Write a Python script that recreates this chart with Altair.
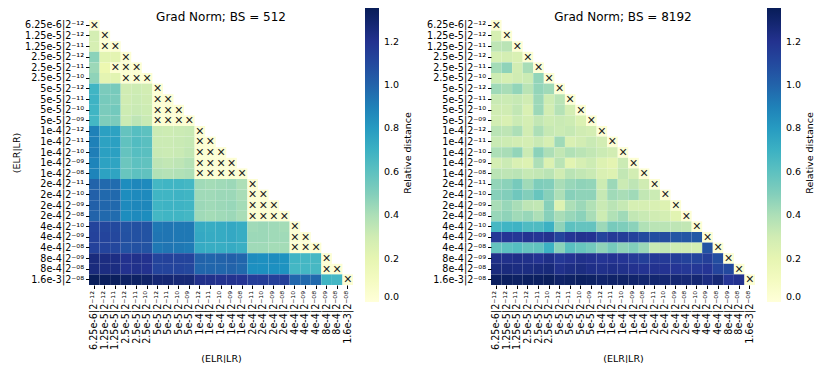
import altair as alt
import pandas as pd

# ---------------- data ----------------
elr = ["6.25e-6", "1.25e-5", "1.25e-5", "2.5e-5", "2.5e-5", "2.5e-5",
       "5e-5", "5e-5", "5e-5", "5e-5",
       "1e-4", "1e-4", "1e-4", "1e-4", "1e-4",
       "2e-4", "2e-4", "2e-4", "2e-4",
       "4e-4", "4e-4", "4e-4", "8e-4", "8e-4", "1.6e-3"]
lr_exp = ["-12", "-12", "-11", "-12", "-11", "-10",
          "-12", "-11", "-10", "-09",
          "-12", "-11", "-10", "-09", "-08",
          "-11", "-10", "-09", "-08",
          "-10", "-09", "-08", "-09", "-08", "-08"]
SUP = str.maketrans("-0123456789", "⁻⁰¹²³⁴⁵⁶⁷⁸⁹")
labels = [f"{e}|2{x.translate(SUP)}" for e, x in zip(elr, lr_exp)]

# BS = 512 (lower triangle, row i has i+1 values)
vals_512 = [
    [0.02],
    [0.28, 0.02],
    [0.27, 0.03, 0.02],
    [0.48, 0.22, 0.21, 0.02],
    [0.44, 0.17, 0.03, 0.03, 0.02],
    [0.47, 0.21, 0.22, 0.03, 0.03, 0.02],
    [0.68, 0.52, 0.53, 0.30, 0.31, 0.29, 0.02],
    [0.69, 0.53, 0.52, 0.30, 0.32, 0.30, 0.03, 0.02],
    [0.68, 0.52, 0.54, 0.31, 0.33, 0.31, 0.03, 0.03, 0.02],
    [0.67, 0.51, 0.52, 0.32, 0.36, 0.33, 0.03, 0.03, 0.03, 0.02],
    [0.90, 0.78, 0.77, 0.58, 0.62, 0.60, 0.32, 0.31, 0.32, 0.33, 0.02],
    [0.90, 0.77, 0.78, 0.59, 0.63, 0.61, 0.32, 0.32, 0.33, 0.34, 0.03, 0.02],
    [0.91, 0.78, 0.78, 0.58, 0.62, 0.61, 0.33, 0.32, 0.33, 0.35, 0.03, 0.03, 0.02],
    [0.89, 0.77, 0.76, 0.56, 0.60, 0.59, 0.36, 0.35, 0.36, 0.38, 0.03, 0.03, 0.03, 0.02],
    [0.89, 0.77, 0.76, 0.57, 0.60, 0.59, 0.39, 0.38, 0.39, 0.40, 0.03, 0.03, 0.03, 0.03, 0.02],
    [1.00, 0.98, 0.97, 0.86, 0.88, 0.87, 0.67, 0.68, 0.68, 0.67, 0.43, 0.42, 0.43, 0.44, 0.40, 0.02],
    [1.01, 0.98, 0.98, 0.86, 0.87, 0.87, 0.68, 0.68, 0.69, 0.68, 0.43, 0.43, 0.44, 0.44, 0.41, 0.03, 0.02],
    [1.01, 0.99, 0.98, 0.87, 0.88, 0.88, 0.68, 0.69, 0.69, 0.68, 0.44, 0.43, 0.44, 0.45, 0.42, 0.03, 0.03, 0.02],
    [1.00, 0.98, 0.97, 0.86, 0.87, 0.86, 0.67, 0.68, 0.68, 0.67, 0.43, 0.42, 0.43, 0.44, 0.41, 0.03, 0.03, 0.03, 0.02],
    [1.12, 1.11, 1.10, 1.06, 1.07, 1.06, 0.93, 0.94, 0.93, 0.93, 0.73, 0.72, 0.73, 0.74, 0.72, 0.43, 0.44, 0.43, 0.42, 0.02],
    [1.13, 1.12, 1.11, 1.07, 1.07, 1.06, 0.94, 0.94, 0.93, 0.93, 0.74, 0.73, 0.73, 0.74, 0.72, 0.44, 0.44, 0.43, 0.43, 0.03, 0.02],
    [1.13, 1.12, 1.11, 1.06, 1.07, 1.06, 0.93, 0.94, 0.93, 0.92, 0.73, 0.72, 0.72, 0.73, 0.71, 0.43, 0.43, 0.42, 0.42, 0.03, 0.03, 0.02],
    [1.25, 1.24, 1.23, 1.20, 1.21, 1.20, 1.12, 1.13, 1.12, 1.12, 1.00, 0.99, 1.00, 1.01, 0.99, 0.86, 0.85, 0.86, 0.84, 0.68, 0.67, 0.66, 0.02],
    [1.25, 1.24, 1.24, 1.20, 1.21, 1.20, 1.12, 1.12, 1.12, 1.11, 0.99, 0.99, 0.99, 1.00, 0.98, 0.85, 0.85, 0.85, 0.84, 0.67, 0.67, 0.66, 0.03, 0.02],
    [1.35, 1.34, 1.34, 1.32, 1.32, 1.31, 1.28, 1.28, 1.27, 1.27, 1.21, 1.21, 1.20, 1.20, 1.19, 1.15, 1.15, 1.14, 1.14, 0.99, 0.98, 0.98, 0.68, 0.67, 0.02],
]
mask_512 = [
    "x", ".x", ".xx", "...x", "..xxx", "...xxx",
    "......x", "......xx", "......xxx", "......xxxx",
    "..........x", "..........xx", "..........xxx", "..........xxxx", "..........xxxxx",
    "...............x", "...............xx", "...............xxx", "...............xxxx",
    "...................x", "...................xx", "...................xxx",
    "......................x", "......................xx",
    "........................x",
]

# BS = 8192
vals_8192 = [
    [0.02],
    [0.27, 0.02],
    [0.36, 0.37, 0.02],
    [0.27, 0.28, 0.26, 0.02],
    [0.42, 0.47, 0.29, 0.41, 0.02],
    [0.31, 0.27, 0.30, 0.32, 0.46, 0.02],
    [0.43, 0.41, 0.46, 0.37, 0.46, 0.43, 0.02],
    [0.33, 0.32, 0.34, 0.30, 0.44, 0.31, 0.37, 0.02],
    [0.30, 0.30, 0.35, 0.26, 0.44, 0.29, 0.38, 0.28, 0.02],
    [0.29, 0.26, 0.32, 0.28, 0.35, 0.31, 0.33, 0.31, 0.25, 0.02],
    [0.37, 0.36, 0.40, 0.29, 0.40, 0.34, 0.32, 0.34, 0.30, 0.28, 0.02],
    [0.33, 0.31, 0.29, 0.28, 0.33, 0.27, 0.43, 0.26, 0.29, 0.33, 0.29, 0.02],
    [0.40, 0.41, 0.46, 0.32, 0.48, 0.40, 0.35, 0.39, 0.37, 0.35, 0.32, 0.29, 0.02],
    [0.28, 0.32, 0.26, 0.24, 0.40, 0.25, 0.37, 0.22, 0.27, 0.31, 0.24, 0.21, 0.32, 0.02],
    [0.37, 0.36, 0.37, 0.34, 0.35, 0.37, 0.30, 0.37, 0.35, 0.33, 0.26, 0.24, 0.35, 0.29, 0.02],
    [0.46, 0.48, 0.53, 0.43, 0.51, 0.50, 0.41, 0.45, 0.47, 0.46, 0.31, 0.44, 0.32, 0.36, 0.30, 0.02],
    [0.49, 0.50, 0.55, 0.50, 0.57, 0.49, 0.40, 0.49, 0.47, 0.47, 0.34, 0.43, 0.41, 0.43, 0.35, 0.32, 0.02],
    [0.41, 0.45, 0.41, 0.36, 0.35, 0.49, 0.24, 0.40, 0.44, 0.39, 0.33, 0.37, 0.34, 0.27, 0.27, 0.26, 0.24, 0.02],
    [0.45, 0.47, 0.43, 0.45, 0.40, 0.49, 0.41, 0.45, 0.48, 0.41, 0.31, 0.39, 0.43, 0.35, 0.33, 0.30, 0.28, 0.22, 0.02],
    [0.66, 0.68, 0.69, 0.64, 0.64, 0.70, 0.47, 0.60, 0.58, 0.58, 0.44, 0.53, 0.51, 0.48, 0.39, 0.37, 0.37, 0.36, 0.35, 0.02],
    [1.17, 1.18, 1.17, 1.19, 1.18, 1.20, 1.12, 1.18, 1.20, 1.19, 1.12, 1.16, 1.15, 1.13, 1.10, 1.08, 1.09, 1.05, 1.05, 1.04, 0.02],
    [0.58, 0.60, 0.62, 0.58, 0.59, 0.70, 0.48, 0.61, 0.57, 0.54, 0.47, 0.53, 0.47, 0.50, 0.44, 0.33, 0.35, 0.31, 0.30, 0.28, 1.06, 0.02],
    [1.22, 1.21, 1.22, 1.21, 1.19, 1.22, 1.17, 1.19, 1.21, 1.20, 1.18, 1.19, 1.18, 1.16, 1.14, 1.17, 1.16, 1.15, 1.13, 1.12, 1.14, 1.08, 0.02],
    [1.25, 1.25, 1.24, 1.24, 1.25, 1.26, 1.21, 1.23, 1.24, 1.22, 1.21, 1.22, 1.21, 1.20, 1.19, 1.20, 1.19, 1.18, 1.17, 1.17, 1.18, 1.12, 1.10, 0.02],
    [1.33, 1.33, 1.32, 1.33, 1.33, 1.34, 1.31, 1.32, 1.33, 1.32, 1.30, 1.31, 1.31, 1.30, 1.29, 1.29, 1.28, 1.28, 1.27, 1.28, 1.24, 1.27, 1.18, 1.20, 0.02],
]
mask_8192 = ["." * i + "x" for i in range(len(labels))]

legend_values = [0.0, 0.2, 0.4, 0.6, 0.8, 1.0, 1.2]
cbar_max = 1.355
# matplotlib "YlGnBu" colour stops, spread evenly over [0, cbar_max]
ylgnbu = ["#ffffd9", "#edf8b1", "#c7e9b4", "#7fcdbb", "#41b6c4",
          "#1d91c0", "#225ea8", "#253494", "#081d58"]
color_domain = [cbar_max * k / (len(ylgnbu) - 1) for k in range(len(ylgnbu))]
FONT = "DejaVu Sans"


def to_frame(vals, mask):
    recs = []
    for i, row in enumerate(vals):
        for j, v in enumerate(row):
            recs.append({"r": labels[i], "c": labels[j], "v": v,
                         "m": "×" if mask[i][j] == "x" else ""})
    return pd.DataFrame(recs)


def panel(df, title, ytitle):
    yaxis = (alt.Axis(title="(ELR|LR)", titlePadding=3, titleFontWeight="normal")
             if ytitle else alt.Axis(title=None))
    base = alt.Chart(df).encode(
        x=alt.X("c:N", sort=labels, scale=alt.Scale(domain=labels),
                axis=alt.Axis(title="(ELR|LR)", labelAngle=-90, titlePadding=4,
                              titleFontWeight="normal")),
        y=alt.Y("r:N", sort=labels, scale=alt.Scale(domain=labels), axis=yaxis),
    )
    rect = base.mark_rect().encode(
        color=alt.Color(
            "v:Q",
            scale=alt.Scale(domain=color_domain, range=ylgnbu, interpolate="rgb"),
            legend=alt.Legend(
                title=None, orient="none", legendX=276, legendY=-12,
                direction="vertical", gradientLength=294, gradientThickness=14,
                values=legend_values, format=".1f", labelFontSize=9.5,
                labelFont=FONT, labelOverlap=False, labelColor="#000",
                gradientStrokeWidth=0, labelOffset=5,
            ),
        )
    )
    text = base.mark_text(fontSize=14, color="#222", baseline="middle",
                          align="center", dy=0.5).encode(text="m:N")
    heat = alt.layer(rect, text)
    # invisible layer carrying the colour-bar title as a right-hand axis title
    cbar_title = alt.Chart(pd.DataFrame({"d": [0.0]})).mark_point(opacity=0).encode(
        y=alt.Y("d:Q", scale=alt.Scale(domain=[0, cbar_max]),
                axis=alt.Axis(orient="right", title="Relative distance", titleAngle=270,
                              labels=False, ticks=False, domain=False, grid=False,
                              offset=59, titlePadding=0, titleFontWeight="normal"))
    )
    return alt.layer(heat, cbar_title).resolve_scale(y="independent").properties(
        width=264, height=265,
        title=alt.TitleParams(title, fontSize=12, fontWeight="normal", font=FONT,
                              offset=-16, anchor="middle", frame="group", color="#000"),
    )


left = panel(to_frame(vals_512, mask_512), "Grad Norm; BS = 512", True)
right = panel(to_frame(vals_8192, mask_8192), "Grad Norm; BS = 8192", False)

chart = alt.hconcat(left, right, spacing=14).resolve_scale(
    color="independent").resolve_legend(color="independent").properties(
    background="white",
    padding={"left": 3, "top": 0, "right": 0, "bottom": 0}).configure_view(
    stroke=None).configure_axis(
    domain=False, tickSize=3.5, tickColor="#000", labelColor="#000",
    labelFont=FONT, titleFont=FONT, labelFontSize=9.6, titleFontSize=9.5,
    titleFontWeight="normal", titleColor="#000", labelPadding=2,
)

chart.save("out.html", embed_options={"renderer": "svg", "actions": False})
